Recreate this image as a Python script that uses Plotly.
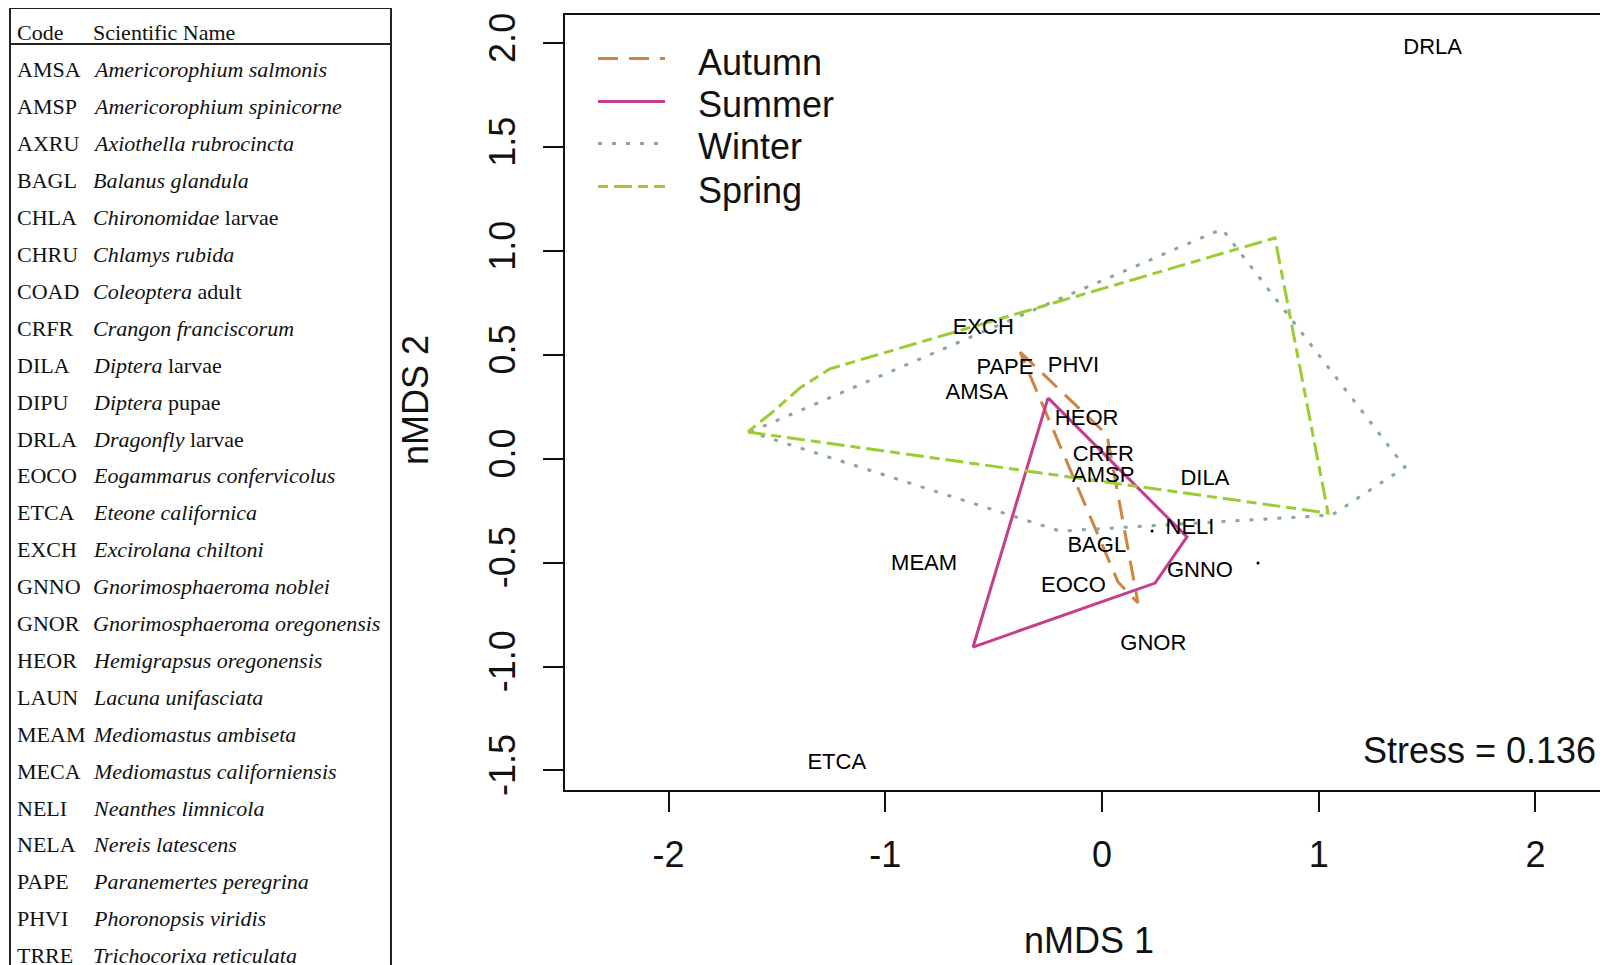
import plotly.graph_objects as go

# species scores (nMDS axes) for the labelled taxa
species = ['DRLA', 'EXCH', 'PAPE', 'PHVI', 'AMSA', 'HEOR', 'CRFR', 'AMSP', 'DILA',
           'NELI', 'BAGL', 'GNNO', 'MEAM', 'EOCO', 'GNOR', 'ETCA']
sp_x = [1.526, -0.548, -0.448, -0.132, -0.578, -0.071, 0.006, 0.006, 0.475,
        0.406, -0.024, 0.452, -0.821, -0.132, 0.237, -1.224]
sp_y = [1.976, 0.628, 0.436, 0.443, 0.315, 0.190, 0.018, -0.086, -0.099,
        -0.334, -0.420, -0.543, -0.511, -0.615, -0.896, -1.465]

# unlabelled points
dot_x = [0.231, 0.720]
dot_y = [-0.347, -0.502]

# season hulls
autumn_x = [-0.378, 0.023, 0.166, 0.074, -0.378]
autumn_y = [0.514, 0.115, -0.694, -0.593, 0.514]
summer_x = [-0.249, 0.392, 0.245, -0.595, -0.249]
summer_y = [0.293, -0.376, -0.598, -0.906, 0.293]
winter_x = [-1.624, 0.554, 1.398, 1.061, -0.194, -1.624]
winter_y = [0.129, 1.106, -0.040, -0.271, -0.348, 0.129]
spring_x = [-1.634, -1.509, -1.394, -1.255, -1.071, 0.798, 1.043, -1.634]
spring_y = [0.129, 0.235, 0.341, 0.433, 0.490, 1.063, -0.261, 0.129]

seasons = ['Autumn', 'Summer', 'Winter', 'Spring']
season_colors = ['#CD853F', '#C63C8E', '#86A8A0', '#9ACD32']
season_dash = ['20px,11px', 'solid', '4px,10px', '10px,6px,18px,6px']

stress = 0.136

x_ticks = [-2, -1, 0, 1, 2]
x_ticktext = ['-2', '-1', '0', '1', '2']
y_ticks = [-1.5, -1.0, -0.5, 0.0, 0.5, 1.0, 1.5, 2.0]
y_ticktext = ['-1.5', '-1.0', '-0.5', '0.0', '0.5', '1.0', '1.5', '2.0']

# code table
codes = ['AMSA', 'AMSP', 'AXRU', 'BAGL', 'CHLA', 'CHRU', 'COAD', 'CRFR', 'DILA', 'DIPU',
         'DRLA', 'EOCO', 'ETCA', 'EXCH', 'GNNO', 'GNOR', 'HEOR', 'LAUN', 'MEAM', 'MECA',
         'NELI', 'NELA', 'PAPE', 'PHVI', 'TRRE']
names = ['<i>Americorophium salmonis</i>', '<i>Americorophium spinicorne</i>',
         '<i>Axiothella rubrocincta</i>', '<i>Balanus glandula</i>',
         '<i>Chironomidae</i> larvae', '<i>Chlamys rubida</i>', '<i>Coleoptera</i> adult',
         '<i>Crangon franciscorum</i>', '<i>Diptera</i> larvae', '<i>Diptera</i> pupae',
         '<i>Dragonfly</i> larvae', '<i>Eogammarus confervicolus</i>',
         '<i>Eteone californica</i>', '<i>Excirolana chiltoni</i>',
         '<i>Gnorimosphaeroma noblei</i>', '<i>Gnorimosphaeroma oregonensis</i>',
         '<i>Hemigrapsus oregonensis</i>', '<i>Lacuna unifasciata</i>',
         '<i>Mediomastus ambiseta</i>', '<i>Mediomastus californiensis</i>',
         '<i>Neanthes limnicola</i>', '<i>Nereis latescens</i>',
         '<i>Paranemertes peregrina</i>', '<i>Phoronopsis viridis</i>',
         '<i>Trichocorixa reticulata</i>']

SANS = 'Liberation Sans, Arial, sans-serif'
SERIF = 'Liberation Serif, Times New Roman, serif'

# the page body adds an 8px offset, so the figure is drawn 8px smaller
OFF = 8
W, H = 1608 - OFF, 965 - OFF
# plot area in page pixels
L, R, T, B = 565, 1608, 15, 790


def px_x(px):
    return (px - L) / (R - L)


def px_y(py):
    return (B - py) / (B - T)


fig = go.Figure()

hulls = [(autumn_x, autumn_y), (summer_x, summer_y), (winter_x, winter_y), (spring_x, spring_y)]
for (hx, hy), name, col, dash in zip(hulls, seasons, season_colors, season_dash):
    fig.add_trace(go.Scatter(x=hx, y=hy, mode='lines', name=name,
                             line=dict(color=col, width=3, dash=dash), showlegend=False))

fig.add_trace(go.Scatter(x=sp_x, y=sp_y, mode='text', text=species,
                         textfont=dict(family=SANS, size=22, color='#000'),
                         showlegend=False))
fig.add_trace(go.Scatter(x=dot_x, y=dot_y, mode='markers',
                         marker=dict(size=3, color='#000'), showlegend=False))

shapes = []
annotations = []

# manual legend (no box, like R's bty="n")
leg_line_y = [58.5, 101.5, 143.6, 186.6]
leg_text_y = [62, 104, 146, 190]
for i, (name, col, dash) in enumerate(zip(seasons, season_colors, season_dash)):
    shapes.append(dict(type='line', xref='paper', yref='paper',
                       x0=px_x(598), x1=px_x(665), y0=px_y(leg_line_y[i]), y1=px_y(leg_line_y[i]),
                       line=dict(color=col, width=3, dash=dash)))
    annotations.append(dict(xref='paper', yref='paper', x=px_x(696), y=px_y(leg_text_y[i]),
                            text=name, showarrow=False, xanchor='left', yanchor='middle',
                            font=dict(family=SANS, size=36, color='#111')))

annotations.append(dict(xref='paper', yref='paper', x=px_x(1598), y=px_y(750),
                        text=f'Stress = {stress}', showarrow=False, xanchor='right',
                        yanchor='middle', font=dict(family=SANS, size=36, color='#111')))

# axis titles
annotations.append(dict(xref='paper', yref='paper', x=px_x(1089), y=px_y(940), text='nMDS 1',
                        showarrow=False, xanchor='center', yanchor='middle',
                        font=dict(family=SANS, size=36, color='#111')))
annotations.append(dict(xref='paper', yref='paper', x=px_x(415), y=px_y(400), text='nMDS 2',
                        showarrow=False, textangle=-90, xanchor='center', yanchor='middle',
                        font=dict(family=SANS, size=36, color='#111')))

# code table on the left
shapes.append(dict(type='rect', xref='paper', yref='paper',
                   x0=px_x(10), x1=px_x(391), y0=px_y(8), y1=px_y(990),
                   line=dict(color='#222', width=2)))
shapes.append(dict(type='line', xref='paper', yref='paper',
                   x0=px_x(10), x1=px_x(391), y0=px_y(44), y1=px_y(44),
                   line=dict(color='#222', width=2)))
annotations.append(dict(xref='paper', yref='paper', x=px_x(15), y=px_y(33), text='Code',
                        showarrow=False, xanchor='left', yanchor='middle',
                        font=dict(family=SERIF, size=22, color='#111')))
annotations.append(dict(xref='paper', yref='paper', x=px_x(91), y=px_y(33), text='Scientific Name',
                        showarrow=False, xanchor='left', yanchor='middle',
                        font=dict(family=SERIF, size=22, color='#111')))
for i, (c, n) in enumerate(zip(codes, names)):
    yy = 70 + i * 36.9
    annotations.append(dict(xref='paper', yref='paper', x=px_x(15), y=px_y(yy), text=c,
                            showarrow=False, xanchor='left', yanchor='middle',
                            font=dict(family=SERIF, size=22, color='#111')))
    annotations.append(dict(xref='paper', yref='paper', x=px_x(91), y=px_y(yy), text=n,
                            showarrow=False, xanchor='left', yanchor='middle',
                            font=dict(family=SERIF, size=22, color='#111')))

fig.update_layout(
    width=W, height=H,
    margin=dict(l=L - OFF, r=W - (R - OFF), t=T - OFF, b=H - (B - OFF), pad=0),
    plot_bgcolor='white', paper_bgcolor='white',
    shapes=shapes, annotations=annotations,
    showlegend=False,
)
fig.update_xaxes(range=[-2.478, 2.335], tickvals=x_ticks, ticktext=x_ticktext,
                 showgrid=False, zeroline=False, showline=True, mirror=True,
                 linecolor='#111', linewidth=2, ticks='outside', ticklen=20, tickwidth=2,
                 tickcolor='#111', ticklabelstandoff=12,
                 tickfont=dict(family=SANS, size=36, color='#111'))
fig.update_yaxes(range=[-1.594, 2.136], tickvals=y_ticks, ticktext=y_ticktext, tickangle=-90,
                 showgrid=False, zeroline=False, showline=True, mirror=False,
                 linecolor='#111', linewidth=2, ticks='outside', ticklen=20, tickwidth=2,
                 tickcolor='#111', ticklabelstandoff=14,
                 tickfont=dict(family=SANS, size=36, color='#111'))

fig.write_html("out.html")
